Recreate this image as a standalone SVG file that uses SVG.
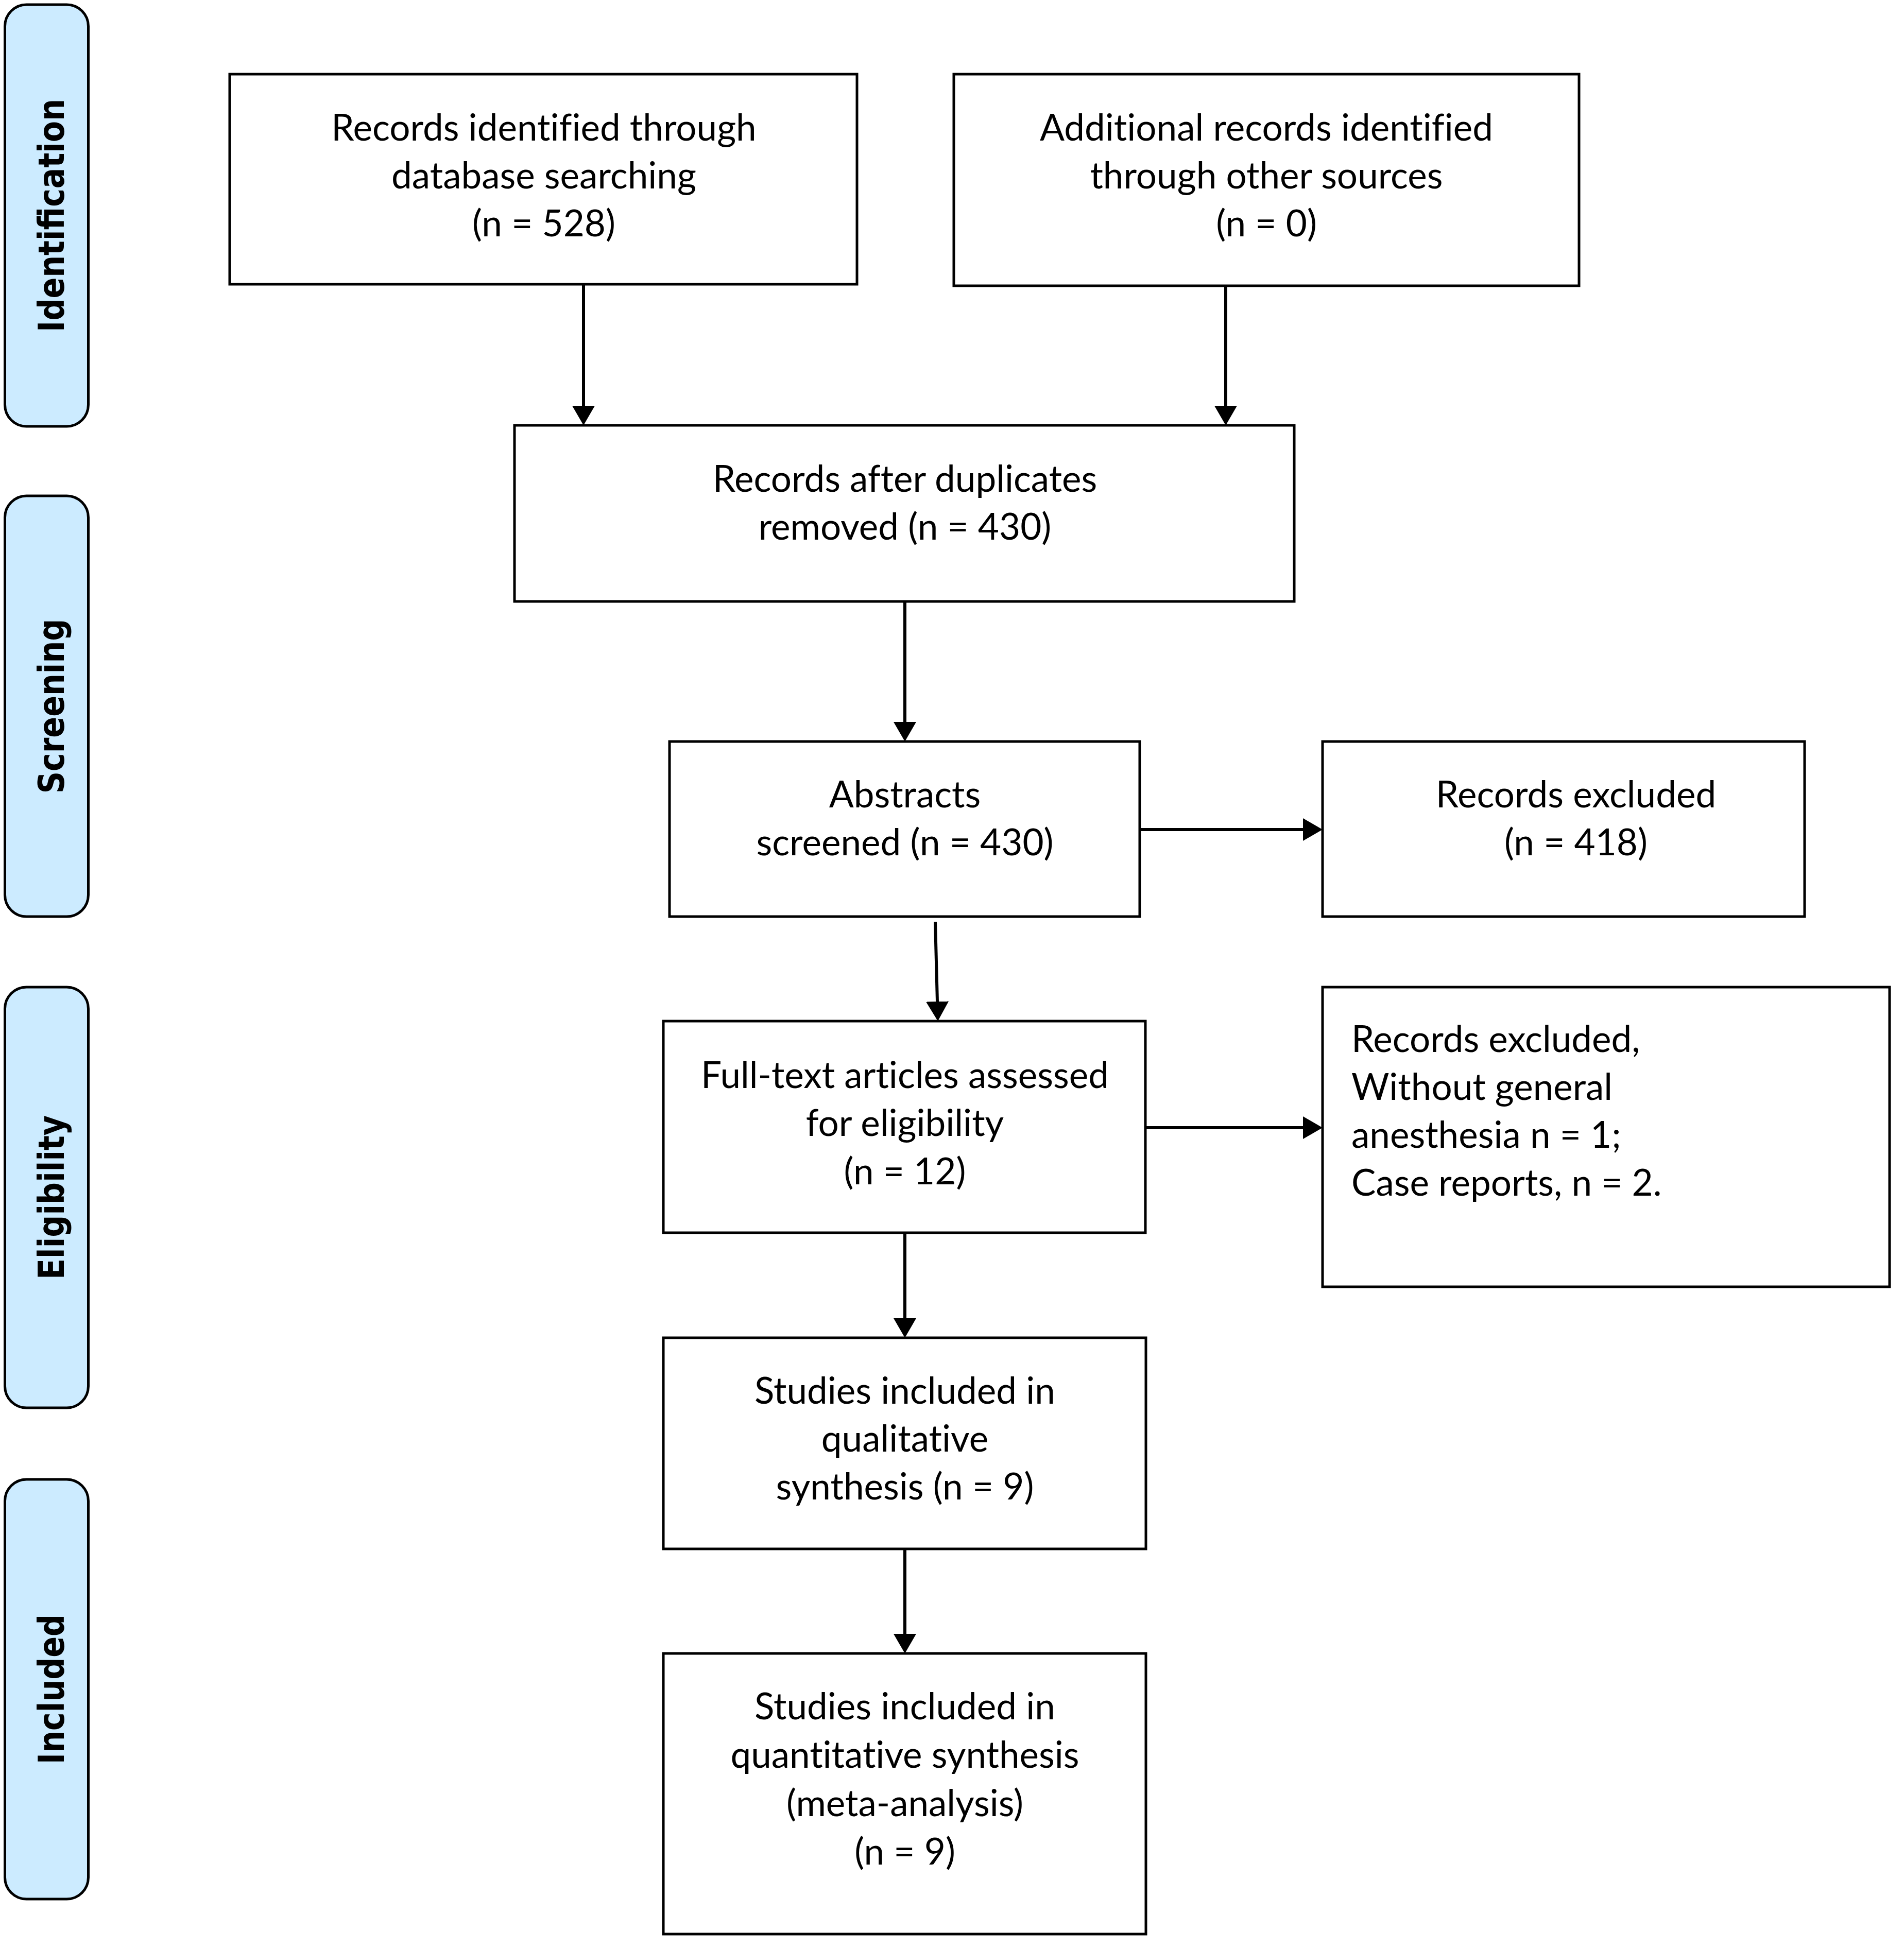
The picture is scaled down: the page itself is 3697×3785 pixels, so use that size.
<svg xmlns="http://www.w3.org/2000/svg" width="3697" height="3785" viewBox="0 0 3697 3785">
<style>
.band{fill:#CCEBFF;stroke:#000;stroke-width:5}
.box{fill:#fff;stroke:#000;stroke-width:5}
.bl{font-family:"DejaVu Sans",Verdana,sans-serif;font-weight:bold;font-size:70px;text-anchor:middle;fill:#000}
.t,.tl{font-family:Lato,"Liberation Sans",sans-serif;font-size:71px;fill:#000;font-variant-ligatures:none;font-feature-settings:"liga" 0,"clig" 0}
.t{text-anchor:middle}
.tl{text-anchor:start}
.c{stroke:#000;stroke-width:6;fill:none}
</style>
<defs>
<marker id="ah" markerUnits="userSpaceOnUse" markerWidth="40" markerHeight="44" refX="0" refY="22" orient="auto">
<path d="M0,0 L38,22 L0,44 z" fill="#000"/>
</marker>
</defs>
<rect x="0" y="0" width="3697" height="3785" fill="#fff"/>

<g id="band-identification">
<rect class="band" x="9.5" y="9" width="162" height="819" rx="42"/>
<text class="bl" transform="translate(123.5,418.5) rotate(-90) scale(0.86,1)">Identification</text>
</g>
<g id="band-screening">
<rect class="band" x="9.5" y="963" width="162" height="817" rx="42"/>
<text class="bl" transform="translate(123.5,1371.5) rotate(-90) scale(0.86,1)">Screening</text>
</g>
<g id="band-eligibility">
<rect class="band" x="9.5" y="1917" width="162" height="817" rx="42"/>
<text class="bl" transform="translate(123.5,2325.5) rotate(-90) scale(0.86,1)">Eligibility</text>
</g>
<g id="band-included">
<rect class="band" x="9.5" y="2873" width="162" height="815" rx="42"/>
<text class="bl" transform="translate(123.5,3280.5) rotate(-90) scale(0.86,1)">Included</text>
</g>

<g id="connectors">
<path class="c" d="M1133,552 V788" marker-end="url(#ah)"/>
<path class="c" d="M2380,555 V788" marker-end="url(#ah)"/>
<path class="c" d="M1757,1168 V1402" marker-end="url(#ah)"/>
<path class="c" d="M1816,1790 L1820,1945" marker-end="url(#ah)"/>
<path class="c" d="M1757,2394 V2560" marker-end="url(#ah)"/>
<path class="c" d="M1757,3008 V3173" marker-end="url(#ah)"/>
<path class="c" d="M2213,1611 H2530" marker-end="url(#ah)"/>
<path class="c" d="M2213,2190 H2530" marker-end="url(#ah)"/>
</g>

<g id="node-database">
<rect class="box" x="446" y="144" width="1218" height="408"/>
<text class="t" x="1056" y="273">Records identified through</text>
<text class="t" x="1056" y="366">database searching</text>
<text class="t" x="1056" y="459">(n = 528)</text>
</g>
<g id="node-other">
<rect class="box" x="1852" y="144" width="1214" height="411"/>
<text class="t" x="2459" y="273">Additional records identified</text>
<text class="t" x="2459" y="366">through other sources</text>
<text class="t" x="2459" y="459">(n = 0)</text>
</g>
<g id="node-duplicates">
<rect class="box" x="999" y="826" width="1514" height="342"/>
<text class="t" x="1757" y="955">Records after duplicates</text>
<text class="t" x="1757" y="1048">removed (n = 430)</text>
</g>
<g id="node-abstracts">
<rect class="box" x="1300" y="1440" width="913" height="340"/>
<text class="t" x="1757" y="1568">Abstracts</text>
<text class="t" x="1757" y="1661">screened (n = 430)</text>
</g>
<g id="node-excluded1">
<rect class="box" x="2568" y="1440" width="936" height="340"/>
<text class="t" x="3060" y="1568">Records excluded</text>
<text class="t" x="3060" y="1661">(n = 418)</text>
</g>
<g id="node-fulltext">
<rect class="box" x="1288" y="1983" width="936" height="411"/>
<text class="t" x="1757" y="2113">Full-text articles assessed</text>
<text class="t" x="1757" y="2206">for eligibility</text>
<text class="t" x="1757" y="2300">(n = 12)</text>
</g>
<g id="node-excluded2">
<rect class="box" x="2568" y="1917" width="1101" height="582"/>
<text class="tl" x="2624" y="2043">Records excluded,</text>
<text class="tl" x="2624" y="2136">Without general</text>
<text class="tl" x="2624" y="2229">anesthesia n = 1;</text>
<text class="tl" x="2624" y="2322">Case reports, n = 2.</text>
</g>
<g id="node-qualitative">
<rect class="box" x="1288" y="2598" width="937" height="410"/>
<text class="t" x="1757" y="2726">Studies included in</text>
<text class="t" x="1757" y="2819">qualitative</text>
<text class="t" x="1757" y="2912">synthesis (n = 9)</text>
</g>
<g id="node-quantitative">
<rect class="box" x="1288" y="3211" width="937" height="545"/>
<text class="t" x="1757" y="3339">Studies included in</text>
<text class="t" x="1757" y="3433">quantitative synthesis</text>
<text class="t" x="1757" y="3527">(meta-analysis)</text>
<text class="t" x="1757" y="3621">(n = 9)</text>
</g>
</svg>
